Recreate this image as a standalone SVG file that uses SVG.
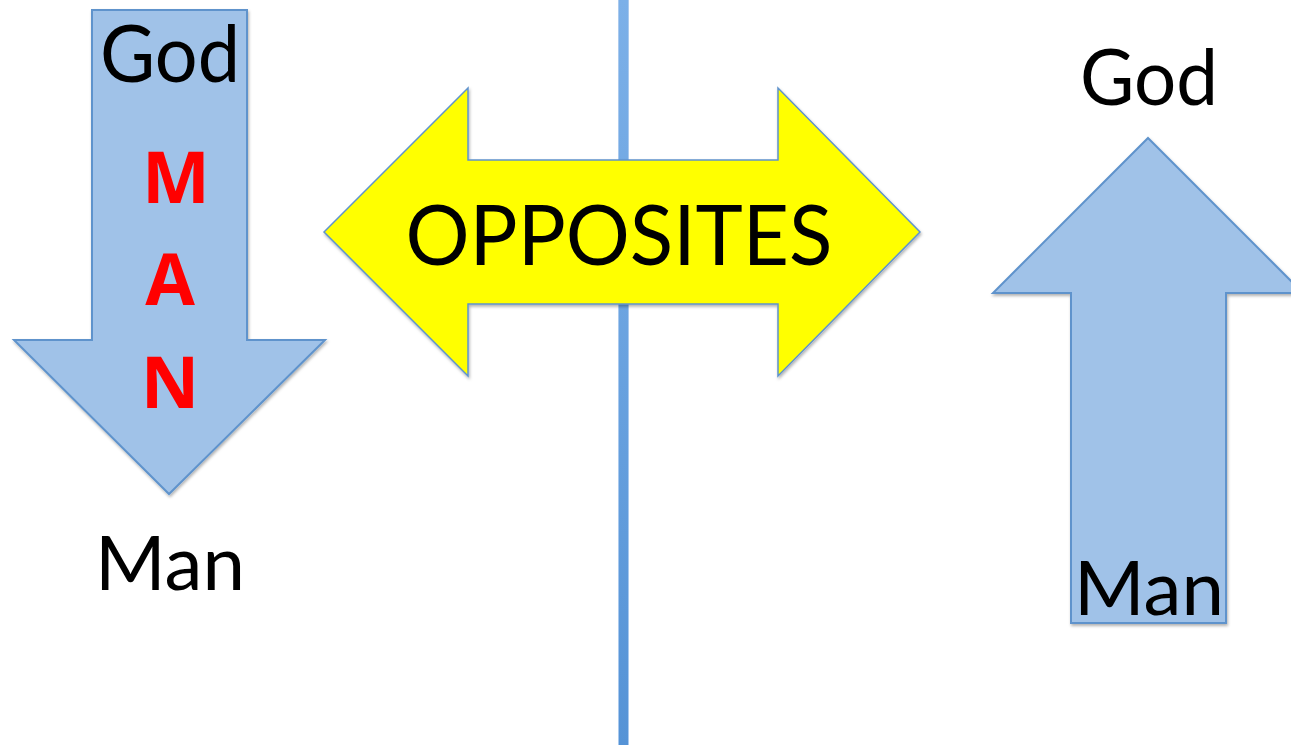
<svg xmlns="http://www.w3.org/2000/svg" width="1291" height="745" viewBox="0 0 1291 745">
  <defs>
    <linearGradient id="lineGrad" x1="0" y1="0" x2="0" y2="1">
      <stop offset="0" stop-color="#7cb0e8"/>
      <stop offset="1" stop-color="#5593d6"/>
    </linearGradient>
    <filter id="shadow" x="-10%" y="-10%" width="120%" height="120%">
      <feDropShadow dx="1" dy="2" stdDeviation="1.5" flood-color="#000" flood-opacity="0.3"/>
    </filter>
  </defs>
  <style>
    .blue { fill: #a0c2e8; stroke: #5f93cc; stroke-width: 2; stroke-linejoin: miter; }
    .yellow { fill: #ffff00; stroke: #5f93cc; stroke-width: 1.5; }
    .lbl { font-family: Lato, "Open Sans", "Liberation Sans", sans-serif; fill: #000; }
    .red { font-family: "Open Sans", Lato, "Liberation Sans", sans-serif; font-weight: bold; fill: #ff0000; }
  </style>
  <rect width="1291" height="745" fill="#ffffff"/>

  <g id="divider">
    <rect x="618" y="0" width="11" height="745" fill="url(#lineGrad)"/>
    <line x1="618.5" y1="0" x2="618.5" y2="745" stroke="#a9c9ee" stroke-width="1"/>
    <line x1="628.5" y1="0" x2="628.5" y2="745" stroke="#a9c9ee" stroke-width="1"/>
  </g>

  <g id="down-arrow">
    <polygon class="blue" filter="url(#shadow)" points="92,10 247,10 247,340 325,340 169,494 14,340 92,340"/>
    <text class="lbl" x="170" y="82" font-size="79" text-anchor="middle" textLength="140" lengthAdjust="spacingAndGlyphs">God</text>
    <text class="red" x="176" y="203" font-size="72" text-anchor="middle">M</text>
    <text class="red" x="170" y="305" font-size="72" text-anchor="middle">A</text>
    <text class="red" x="170" y="408" font-size="72" text-anchor="middle">N</text>
  </g>

  <g id="left-man">
    <text class="lbl" x="170" y="590" font-size="75" text-anchor="middle" textLength="150" lengthAdjust="spacingAndGlyphs">Man</text>
  </g>

  <g id="opposites">
    <polygon class="yellow" filter="url(#shadow)" points="324,232 468,88 468,160 778,160 778,88 920,232 778,376 778,304 468,304 468,376"/>
    <text class="lbl" x="619" y="265" font-size="84" text-anchor="middle" textLength="427" lengthAdjust="spacingAndGlyphs">OPPOSITES</text>
  </g>

  <g id="right-god">
    <text class="lbl" x="1149" y="105" font-size="78" text-anchor="middle" textLength="138" lengthAdjust="spacingAndGlyphs">God</text>
  </g>

  <g id="up-arrow">
    <polygon class="blue" filter="url(#shadow)" points="1148,138 1303,293 1226,293 1226,623 1071,623 1071,293 993,293"/>
    <text class="lbl" x="1149" y="615" font-size="75" text-anchor="middle" textLength="150" lengthAdjust="spacingAndGlyphs">Man</text>
  </g>
</svg>
